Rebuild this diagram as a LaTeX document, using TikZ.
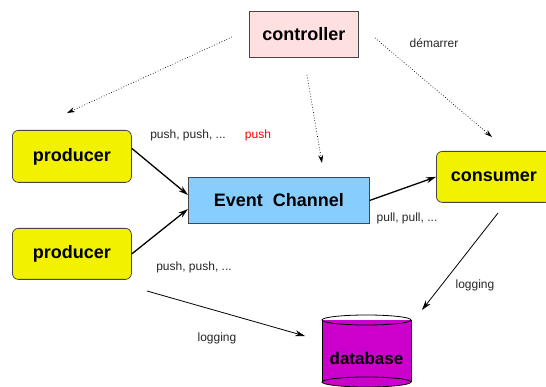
\documentclass[tikz,border=0pt]{standalone}
\usepackage{fontspec}
\setmainfont{Liberation Sans}
\usetikzlibrary{arrows.meta}
\definecolor{yel}{RGB}{242,242,0}
\definecolor{chan}{RGB}{135,206,255}
\definecolor{ctrl}{RGB}{255,224,224}
\definecolor{dbc}{RGB}{204,0,204}
\definecolor{edge}{RGB}{70,70,70}
\begin{document}
\begin{tikzpicture}[x=1pt,y=-1pt,
  box/.style={draw=edge,line width=0.8pt,font=\fontsize{18}{20}\selectfont\bfseries,inner sep=0pt,anchor=north west},
  rbox/.style={box,fill=yel,rounded corners=6pt},
  lbl/.style={font=\fontsize{12}{14}\selectfont,text=black!85,inner sep=0pt},
  flow/.style={line width=1.3pt,-{Stealth[length=10pt,width=6pt]}},
  logarr/.style={line width=0.8pt,-{Stealth[length=10pt,width=6pt]}},
  ctl/.style={line width=0.7pt,dotted,-{Stealth[length=8pt,width=5pt]}}]
\useasboundingbox (0,0) rectangle (546,387);
\node[box,fill=ctrl,minimum width=109pt,minimum height=46pt] (ctrl) at (249,11) {controller};
\node[rbox,minimum width=119pt,minimum height=52pt] (p1) at (12,130) {producer};
\node[rbox,minimum width=119pt,minimum height=51pt] (p2) at (12,228) {producer};
\node[box,fill=chan,minimum width=181pt,minimum height=46pt] (ec) at (188,177) {Event\ \ Channel};
\node[rbox,minimum width=115pt,minimum height=51pt] (cons) at (436,151) {consumer};
% database cylinder
\fill[dbc] (322,320) -- (322,382) arc[start angle=180,end angle=360,x radius=44.5,y radius=-5] -- (411,320) -- cycle;
\draw[line width=0.8pt] (322,320) -- (322,382) (411,320) -- (411,382);
\draw[line width=0.8pt] (366.5,320) ellipse[x radius=44.5,y radius=5];
\draw[line width=0.8pt] (366.5,382) ellipse[x radius=44.5,y radius=5];
\node[font=\fontsize{17}{19}\selectfont\bfseries,inner sep=0pt] (db) at (366.5,358) {database};
\coordinate (dbL) at (305,336);
\coordinate (dbR) at (422,310);
\coordinate (logstart) at (147,291);
% connectors
\draw[flow] (p1.east) ++(0,-8) coordinate (a1) (a1) -- (ec.west |- 0,195);
\draw[flow] (p2.east) ++(0,0) coordinate (a2) (a2) -- (ec.west |- 0,209);
\draw[flow] (ec.east) ++(0,0) -- (cons.west);
\draw[ctl] (232,37) -- (67,113);
\draw[ctl] (307,75) -- (322,163);
\draw[ctl] (375,38) -- (492,137);
\draw[logarr] (498,213) -- (dbR);
\draw[logarr] (logstart) -- (dbL);
% labels
\node[lbl] (l1) at (188,135) {push, push, ...};
\node[lbl,text=red] (l2) at (258,135) {push};
\node[lbl] (l3) at (407,218) {pull, pull, ...};
\node[lbl] (l4) at (194,267) {push, push, ...};
\node[lbl] (l5) at (217,338) {logging};
\node[lbl] (l6) at (475,285) {logging};
\node[lbl] (l7) at (434,43) {démarrer};
\end{tikzpicture}
\end{document}
